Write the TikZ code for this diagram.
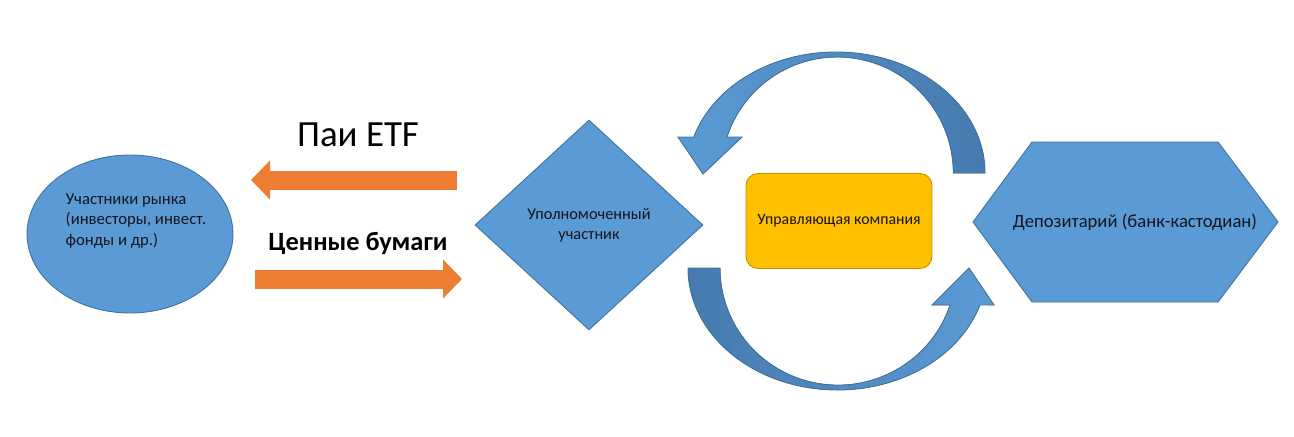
\documentclass[tikz,border=0pt]{standalone}
\usepackage{fontspec}
\setmainfont{Carlito}
\usetikzlibrary{shapes.geometric, arrows.meta}
\definecolor{myblue}{RGB}{91,155,213}
\definecolor{myblueedge}{RGB}{65,113,156}
\definecolor{mybluedark}{RGB}{70,122,175}
\definecolor{myorange}{RGB}{237,125,49}
\definecolor{myyellow}{RGB}{255,192,0}
\definecolor{myyellowedge}{RGB}{191,144,0}
\definecolor{mytext}{RGB}{20,20,30}
\tikzset{
  shapebox/.style={draw=myblueedge, fill=myblue, line width=0.5pt,
    inner sep=0pt, text=mytext},
  fatarrow/.style={draw=myorange, line width=0.38cm,
    -{Triangle[length=0.38cm, width=0.76cm]}},
  loopband/.style={draw=myblueedge, line width=0.5pt}
}

\begin{document}
\begin{tikzpicture}[x=0.02cm, y=-0.02cm]
  \useasboundingbox (0,0) rectangle (1294,436);

  % market participants
  \node[shapebox, ellipse, minimum width=4.12cm, minimum height=3.16cm] (market) at (130,234) {};
  \node[font=\fontsize{9.5}{11.4}\selectfont, align=left, text=mytext] (markettext) at (136,221)
    {Участники рынка\\(инвесторы, инвест.\\фонды и др.)};

  % authorized participant
  \node[shapebox, diamond, minimum width=4.56cm, minimum height=4.2cm,
    align=center, font=\fontsize{9.3}{11.4}\selectfont] (auth) at (589,225)
    {Уполномоченный\\участник};

  % management company
  \node[draw=myyellowedge, fill=myyellow, line width=0.5pt, rounded corners=0.24cm,
    minimum width=3.72cm, minimum height=1.9cm, text=mytext,
    font=\fontsize{9}{11}\selectfont] (mgmt) at (839,221) {Управляющая компания};

  % depositary
  \filldraw[shapebox] (973,222) -- (1032,142) -- (1218,142) -- (1278,222)
    -- (1218,302) -- (1032,302) -- cycle;
  \node[font=\fontsize{10.6}{13}\selectfont, text=mytext] (depo) at (1135,222)
    {Депозитарий (банк-кастодиан)};

  % orange flows
  \coordinate (etfstart) at (457,180);
  \coordinate (etfend) at (251,180);
  \coordinate (secstart) at (255,279);
  \coordinate (secend) at (462,279);
  \draw[fatarrow] (etfstart) -- (etfend);
  \draw[fatarrow] (secstart) -- (secend);
  \node[font=\fontsize{21}{25}\selectfont] (etflabel) at (358,135) {Паи ETF};
  \node[font=\fontsize{15}{18}\selectfont\bfseries] (seclabel) at (358,243) {Ценные бумаги};

  % cycle arrows
  \filldraw[loopband, left color=myblue, middle color=myblue, right color=mybluedark]
    (985,173) arc[start angle=0, end angle=-162.7, x radius=149, y radius=121]
    -- (678,137) -- (703,174) -- (742,137) -- (727,137)
    arc[start angle=-161.9, end angle=0, radius=116] -- cycle;
  \filldraw[loopband, left color=mybluedark, middle color=myblue, right color=myblue]
    (688,268) arc[start angle=180, end angle=17.65, x radius=149.5, y radius=122]
    -- (994,305) -- (969,268) -- (932,305) -- (950,305)
    arc[start angle=18.4, end angle=180, x radius=118, y radius=117] -- cycle;
\end{tikzpicture}
\end{document}
